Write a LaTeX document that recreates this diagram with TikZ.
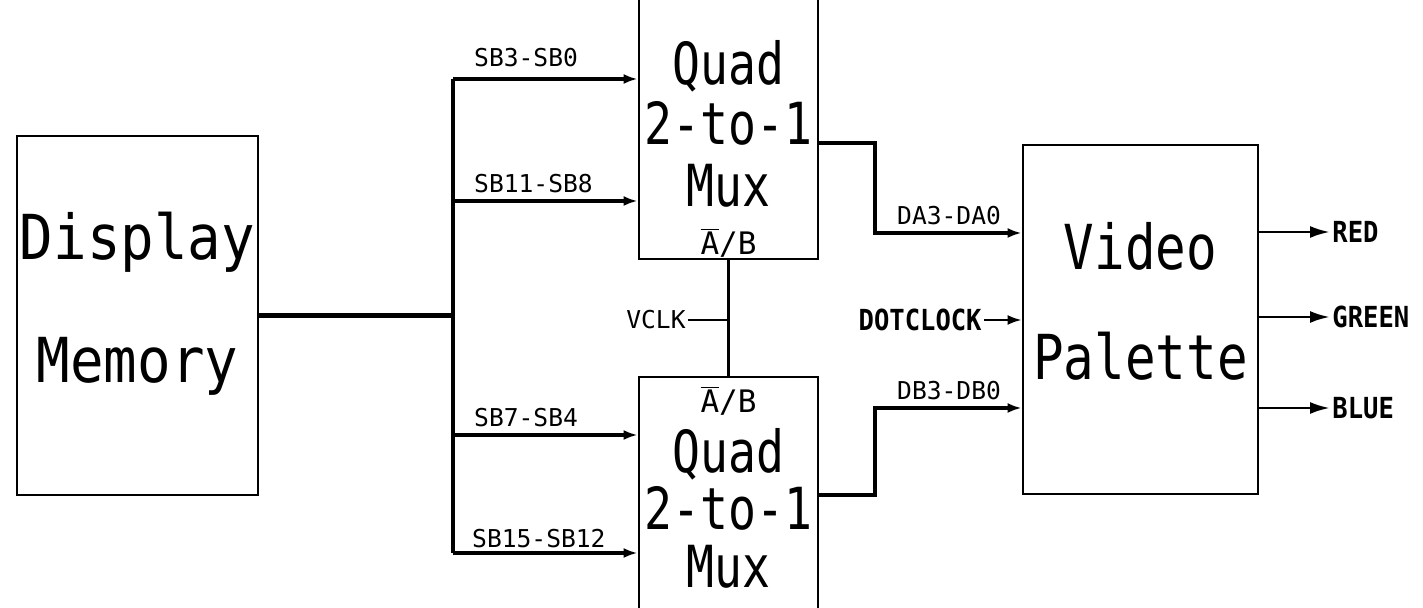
\documentclass[tikz,border=0pt]{standalone}
\usepackage{fontspec}
\usepackage{tikz}
\usetikzlibrary{positioning,arrows.meta,calc}
\newfontfamily\plotfont[FakeStretch=0.9]{DejaVu Sans Mono}
\newfontfamily\plotpal[FakeStretch=0.82]{DejaVu Sans Mono}
\newfontfamily\plotmux[FakeStretch=0.8]{DejaVu Sans Mono}
\newfontfamily\plotsig{DejaVu Sans Mono}
\newfontfamily\plotbold[FakeStretch=0.88]{DejaVu Sans Mono}
\tikzset{
  blk/.style={rectangle,draw,line width=1.4pt,inner sep=0pt},
  bus/.style={line width=2.2pt},
  wire/.style={line width=1.1pt},
  inarr/.style={bus,-{Latex[length=7pt,width=5pt]}},
  outarr/.style={line width=1.4pt,-{Latex[length=10pt,width=6pt]}},
  memtxt/.style={anchor=base,inner sep=0pt,font=\plotfont\fontsize{31}{31}\selectfont},
  paltxt/.style={anchor=base,inner sep=0pt,font=\plotpal\fontsize{31}{31}\selectfont},
  muxtxt/.style={anchor=base,inner sep=0pt,font=\plotmux\fontsize{29}{29}\selectfont},
  seltxt/.style={anchor=base,inner sep=0pt,font=\plotsig\fontsize{15.5}{15.5}\selectfont},
  sig/.style={inner sep=1pt,font=\plotsig\fontsize{12.3}{12.3}\selectfont},
  sigb/.style={inner sep=1pt,font=\plotbold\bfseries\fontsize{14.5}{14.5}\selectfont},
}
\begin{document}
\begin{tikzpicture}[x=0.5pt,y=-0.5pt]
  \useasboundingbox (0,0) rectangle (1423,608);
  \clip (0,0) rectangle (1423,608);
  \node[blk,minimum width=120.5pt,minimum height=179.5pt] (mem) at (137.5,315.5) {};
  \node[blk,minimum width=89.5pt,minimum height=139.5pt] (muxa) at (728.5,119.5) {};
  \node[blk,minimum width=89.5pt,minimum height=126.5pt] (muxb) at (728.5,503.5) {};
  \node[blk,minimum width=117.5pt,minimum height=174.5pt] (pal) at (1140.5,319.5) {};
  \node[memtxt] (disp) at (137.5,260) {Display};
  \node[memtxt] (memo) at (137.5,383) {Memory};
  \node[paltxt] (vid) at (1140.5,270) {Video};
  \node[paltxt] (palt) at (1140.5,380) {Palette};
  \node[muxtxt] (qa) at (728.5,85) {Quad};
  \node[muxtxt] (ta) at (728.5,145) {2-to-1};
  \node[muxtxt] (ma) at (728.5,207) {Mux};
  \node[seltxt] (sa) at (728.5,255) {$\overline{\mbox{A}}$/B};
  \node[seltxt] (sb) at (728.5,413) {$\overline{\mbox{A}}$/B};
  \node[muxtxt] (qb) at (728.5,473) {Quad};
  \node[muxtxt] (tb) at (728.5,530) {2-to-1};
  \node[muxtxt] (mb) at (728.5,587) {Mux};
  \coordinate (bt) at (453,79);
  \coordinate (b2) at (453,201);
  \coordinate (bm) at (453,316);
  \coordinate (b3) at (453,435);
  \coordinate (bb) at (453,553);
  \draw[bus] (bt) -- (bb);
  \draw[bus] (mem.east) -- (mem.east -| bm);
  \draw[inarr] (bt) -- (bt -| muxa.west)
    node[sig,pos=0,anchor=base west,xshift=8.5pt,yshift=6pt] {SB3-SB0};
  \draw[inarr] (b2) -- (b2 -| muxa.west)
    node[sig,pos=0,anchor=base west,xshift=8.5pt,yshift=4pt] {SB11-SB8};
  \draw[inarr] (b3) -- (b3 -| muxb.west)
    node[sig,pos=0,anchor=base west,xshift=8.5pt,yshift=4pt] {SB7-SB4};
  \draw[inarr] (bb) -- (bb -| muxb.west)
    node[sig,pos=0,anchor=base west,xshift=7.5pt,yshift=3pt] {SB15-SB12};
  \draw[wire] (muxa.south) -- (muxb.north);
  \node[sig,anchor=east] (vclk) at (688,320) {VCLK};
  \draw[wire] (vclk) -- (vclk -| muxa.south);
  \coordinate (ja) at (875,143);
  \coordinate (da) at (875,233);
  \coordinate (jb) at (875,495);
  \coordinate (db) at (875,408);
  \draw[inarr] (muxa.east |- ja) -- (ja) -- (da) -- (da -| pal.west)
    node[sig,pos=0,anchor=base west,xshift=9pt,yshift=4pt] {DA3-DA0};
  \draw[inarr] (muxb.east |- jb) -- (jb) -- (db) -- (db -| pal.west)
    node[sig,pos=0,anchor=base west,xshift=9pt,yshift=4pt] {DB3-DB0};
  \node[sigb,anchor=east] (dclk) at (984,320) {DOTCLOCK};
  \draw[wire,-{Latex[length=7pt,width=5pt]}] (dclk) -- (dclk -| pal.west);
  \foreach \c/\y in {RED/232,GREEN/317,BLUE/408}{
    \node[sigb,anchor=west] (\c) at (1330,\y) {\c};
    \draw[outarr] (pal.east |- \c) -- (\c);
  }
\end{tikzpicture}
\end{document}
